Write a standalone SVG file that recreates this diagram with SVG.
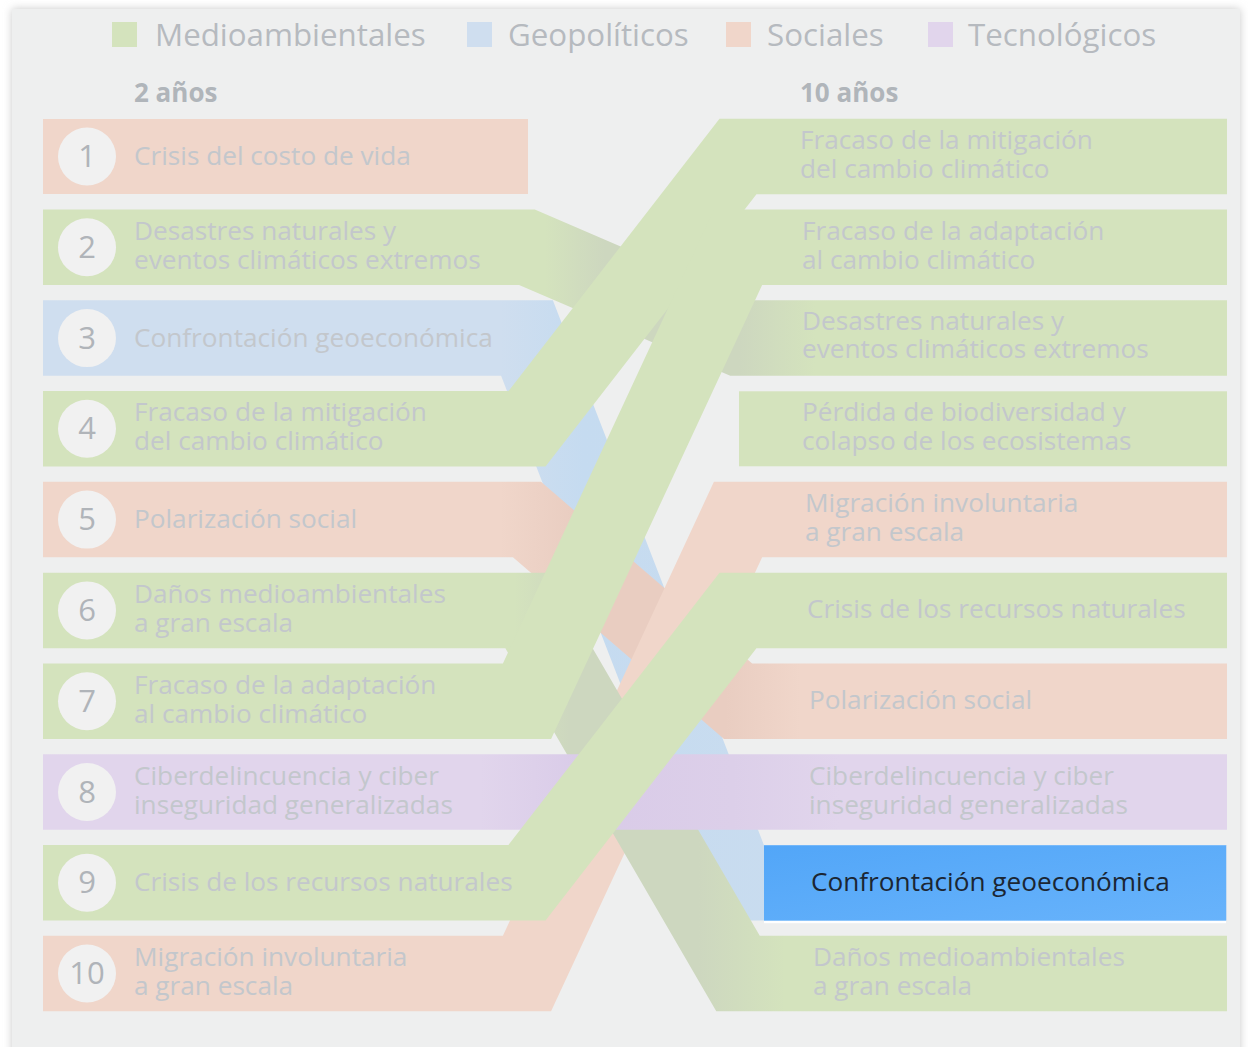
<svg xmlns="http://www.w3.org/2000/svg" width="1248" height="1047" viewBox="0 0 1248 1047">
<defs>
<filter id="sh" x="-5%" y="-5%" width="110%" height="110%"><feGaussianBlur stdDeviation="4"/></filter>
<linearGradient id="hl" x1="0" y1="0" x2="1" y2="1"><stop offset="0" stop-color="#52a6f8"/><stop offset="1" stop-color="#68b3fb"/></linearGradient>
<linearGradient id="gd" gradientUnits="userSpaceOnUse" x1="545" y1="0" x2="815" y2="0"><stop offset="0" stop-color="#d4e3bd"/><stop offset="0.22" stop-color="#cdd7bf"/><stop offset="0.72" stop-color="#cdd7bf"/><stop offset="1" stop-color="#d4e3bd"/></linearGradient>
<linearGradient id="gd2" gradientUnits="userSpaceOnUse" x1="515" y1="0" x2="785" y2="0"><stop offset="0" stop-color="#d4e3bd"/><stop offset="0.2" stop-color="#cdd7bf"/><stop offset="0.68" stop-color="#cdd7bf"/><stop offset="1" stop-color="#d4e3bd"/></linearGradient>
<linearGradient id="pd" gradientUnits="userSpaceOnUse" x1="500" y1="0" x2="800" y2="0"><stop offset="0" stop-color="#f0d6ca"/><stop offset="0.25" stop-color="#e9cdc1"/><stop offset="0.75" stop-color="#e9cdc1"/><stop offset="1" stop-color="#f0d6ca"/></linearGradient>
<linearGradient id="vd" gradientUnits="userSpaceOnUse" x1="480" y1="0" x2="840" y2="0"><stop offset="0" stop-color="#e1d5ec"/><stop offset="0.3" stop-color="#d9cbe8"/><stop offset="0.7" stop-color="#dccfe9"/><stop offset="1" stop-color="#e1d5ec"/></linearGradient>
<linearGradient id="bd" gradientUnits="userSpaceOnUse" x1="500" y1="0" x2="780" y2="0"><stop offset="0" stop-color="#cfdeef"/><stop offset="0.3" stop-color="#c5dbf0"/><stop offset="1" stop-color="#c9dcef"/></linearGradient>
<style>
.band{fill:none;stroke-width:75.5;stroke-linejoin:miter;stroke-miterlimit:10;stroke-linecap:butt}
.g{stroke:#d4e3bd}.p{stroke:#f0d6ca}
.lbl{font-family:'Open Sans','Noto Sans','DejaVu Sans',sans-serif;font-size:26.2px;fill:#c3c7cc}
.num{font-family:'Open Sans','Noto Sans','DejaVu Sans',sans-serif;font-size:31px;fill:#b0b4b9;text-anchor:middle}
.leg{font-family:'Open Sans','Noto Sans','DejaVu Sans',sans-serif;font-size:31.3px;fill:#b6babf}
.hdr{font-family:'Open Sans','Noto Sans','DejaVu Sans',sans-serif;font-size:26px;font-weight:bold;fill:#b0b5ba}
.circ{fill:#f1f1f1}
</style>
</defs>
<rect width="1248" height="1047" fill="#ffffff"/>
<rect x="12" y="9" width="1228" height="1050" fill="#c8c8c8" filter="url(#sh)"/>
<rect x="12" y="9" width="1228" height="1050" fill="#eeefef"/>

<g id="legend">
<rect x="112" y="22" width="25" height="25" fill="#d4e3bd"/><text class="leg" x="155" y="46">Medioambientales</text>
<rect x="467" y="22" width="25" height="25" fill="#cfdeef"/><text class="leg" x="508" y="46">Geopolíticos</text>
<rect x="726" y="22" width="25" height="25" fill="#f0d6ca"/><text class="leg" x="767" y="46">Sociales</text>
<rect x="928" y="22" width="25" height="25" fill="#e1d5ec"/><text class="leg" x="968" y="46">Tecnológicos</text>
<text class="hdr" x="134" y="102">2 años</text>
<text class="hdr" x="800" y="102">10 años</text>
</g>

<g id="connectors">
<rect x="43" y="119" width="485" height="75" fill="#f0d6ca"/>
<rect x="739" y="391.3" width="488" height="75" fill="#d4e3bd"/>
<path class="band" stroke="url(#bd)" d="M43 338.1H527L738 882.7H1227"/>
<path class="band" stroke="url(#pd)" d="M43 519.6H527L738 701.2H1227"/>
<path class="band p" d="M43 973.5H527L738 519.6H1227"/>
<path class="band" stroke="url(#gd)" d="M43 247.3H527L738 338.1H1227"/>
<path class="band" stroke="url(#gd2)" d="M43 610.4H527L738 973.5H1227"/>
<path class="band" stroke="url(#vd)" d="M43 792H1227"/>
<path class="band g" d="M43 428.8H527L738 156.5H1227"/>
<path class="band g" d="M43 701.2H527L738 247.3H1227"/>
<path class="band g" d="M43 882.7H527L738 610.4H1227"/>
</g>

<g id="left-1"><circle class="circ" cx="87" cy="156.5" r="29"/><text class="num" x="87" y="167">1</text><text class="lbl" x="134" y="165">Crisis del costo de vida</text></g>
<g id="left-2"><circle class="circ" cx="87" cy="247.3" r="29"/><text class="num" x="87" y="258">2</text><text class="lbl" x="134" y="240">Desastres naturales y</text><text class="lbl" x="134" y="269">eventos climáticos extremos</text></g>
<g id="left-3"><circle class="circ" cx="87" cy="338.1" r="29"/><text class="num" x="87" y="349">3</text><text class="lbl" x="134" y="347">Confrontación geoeconómica</text></g>
<g id="left-4"><circle class="circ" cx="87" cy="428.8" r="29"/><text class="num" x="87" y="439">4</text><text class="lbl" x="134" y="421">Fracaso de la mitigación</text><text class="lbl" x="134" y="450">del cambio climático</text></g>
<g id="left-5"><circle class="circ" cx="87" cy="519.6" r="29"/><text class="num" x="87" y="530">5</text><text class="lbl" x="134" y="528">Polarización social</text></g>
<g id="left-6"><circle class="circ" cx="87" cy="610.4" r="29"/><text class="num" x="87" y="621">6</text><text class="lbl" x="134" y="603">Daños medioambientales</text><text class="lbl" x="134" y="632">a gran escala</text></g>
<g id="left-7"><circle class="circ" cx="87" cy="701.2" r="29"/><text class="num" x="87" y="712">7</text><text class="lbl" x="134" y="694">Fracaso de la adaptación</text><text class="lbl" x="134" y="723">al cambio climático</text></g>
<g id="left-8"><circle class="circ" cx="87" cy="792" r="29"/><text class="num" x="87" y="803">8</text><text class="lbl" x="134" y="785">Ciberdelincuencia y ciber</text><text class="lbl" x="134" y="814">inseguridad generalizadas</text></g>
<g id="left-9"><circle class="circ" cx="87" cy="882.7" r="29"/><text class="num" x="87" y="893">9</text><text class="lbl" x="134" y="891">Crisis de los recursos naturales</text></g>
<g id="left-10"><circle class="circ" cx="87" cy="973.5" r="29"/><text class="num" x="87" y="984">10</text><text class="lbl" x="134" y="966">Migración involuntaria</text><text class="lbl" x="134" y="995">a gran escala</text></g>

<g id="right-1"><text class="lbl" x="800" y="149">Fracaso de la mitigación</text><text class="lbl" x="800" y="178">del cambio climático</text></g>
<g id="right-2"><text class="lbl" x="802" y="240">Fracaso de la adaptación</text><text class="lbl" x="802" y="269">al cambio climático</text></g>
<g id="right-3"><text class="lbl" x="802" y="330">Desastres naturales y</text><text class="lbl" x="802" y="358">eventos climáticos extremos</text></g>
<g id="right-4"><text class="lbl" x="802" y="421">Pérdida de biodiversidad y</text><text class="lbl" x="802" y="450">colapso de los ecosistemas</text></g>
<g id="right-5"><text class="lbl" x="805" y="512">Migración involuntaria</text><text class="lbl" x="805" y="541">a gran escala</text></g>
<g id="right-6"><text class="lbl" x="807" y="618">Crisis de los recursos naturales</text></g>
<g id="right-7"><text class="lbl" x="809" y="709">Polarización social</text></g>
<g id="right-8"><text class="lbl" x="809" y="785">Ciberdelincuencia y ciber</text><text class="lbl" x="809" y="814">inseguridad generalizadas</text></g>
<g id="right-9"><rect x="764" y="845.2" width="462" height="78" fill="#ffffff"/><rect x="764" y="845.2" width="462" height="75.5" fill="url(#hl)"/><text class="lbl" x="811" y="891" style="fill:#1b2633">Confrontación geoeconómica</text></g>
<g id="right-10"><text class="lbl" x="813" y="966">Daños medioambientales</text><text class="lbl" x="813" y="995">a gran escala</text></g>
</svg>
